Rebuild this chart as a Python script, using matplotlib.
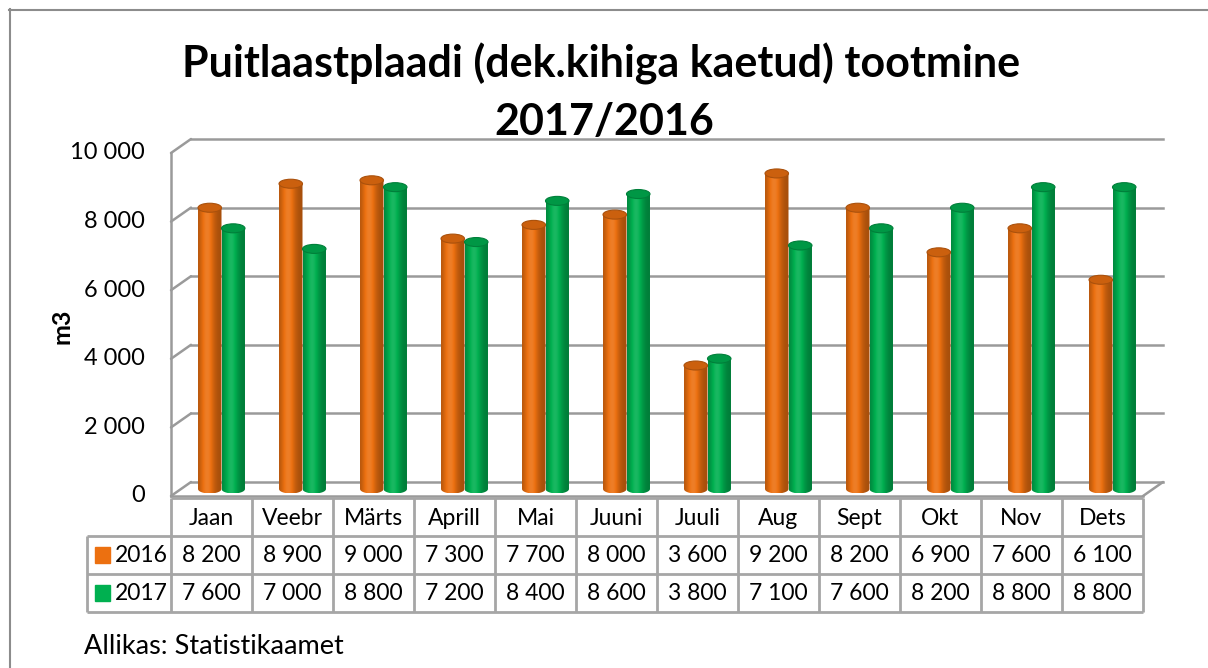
import numpy as np
import matplotlib
matplotlib.use('Agg')
import matplotlib.pyplot as plt
from matplotlib.transforms import offset_copy
from matplotlib.patches import Ellipse, PathPatch, Rectangle, ConnectionPatch
from matplotlib.path import Path
from matplotlib.lines import Line2D
from matplotlib.colors import to_rgb

plt.rcParams['font.family'] = ['Lato', 'DejaVu Sans']

months = ['Jaan', 'Veebr', 'Märts', 'Aprill', 'Mai', 'Juuni', 'Juuli',
          'Aug', 'Sept', 'Okt', 'Nov', 'Dets']
y2016 = [8200, 8900, 9000, 7300, 7700, 8000, 3600, 9200, 8200, 6900, 7600, 6100]
y2017 = [7600, 7000, 8800, 7200, 8400, 8600, 3800, 7100, 7600, 8200, 8800, 8800]
series = ['2016', '2017']
colors = ['#EC7010', '#00B050']
yticks = [0, 2000, 4000, 6000, 8000, 10000]

W, H = 1208, 668
fig = plt.figure(figsize=(W / 100, H / 100), dpi=100)


def fx(px):
    return px / W


def fy(py):
    return 1 - py / H


def fmt(v):
    return f'{v:,}'.replace(',', ' ')


def shade(c, f):
    base = np.array(to_rgb(c))
    if f <= 1:
        return base * f
    return base + (1 - base) * (f - 1)


grid_c = '#9A9A9A'

# border around the whole chart
fig.add_artist(Line2D([fx(9), 1.01], [fy(9.5), fy(9.5)], color='#8C8C8C', lw=1.5))
fig.add_artist(Line2D([fx(9.5), fx(9.5)], [fy(9), -0.01], color='#8C8C8C', lw=1.5))

# main (front plane) axes
ax = fig.add_axes([fx(171), fy(496), fx(1143) - fx(171), fy(153) - fy(496)])
front = ax.transData
mid = offset_copy(front, fig=fig, x=10, y=7, units='dots')
back = offset_copy(front, fig=fig, x=20, y=14, units='dots')
ylab = offset_copy(front, fig=fig, x=-26, y=0, units='dots')

for v in yticks:
    ax.plot([0, 12], [v, v], color=grid_c, lw=1.8, transform=back,
            clip_on=False, zorder=1)
    cp = ConnectionPatch((0, v), (0, v), front, back, color=grid_c, lw=1.8,
                         zorder=1, clip_on=False)
    ax.add_artist(cp)
    ax.text(0, v, fmt(v), transform=ylab, ha='right', va='center', fontsize=17)

# floor and left edge
ax.plot([0, 12], [0, 0], color=grid_c, lw=1.8, clip_on=False, zorder=2)
ax.plot([0, 0], [0, 10000], color=grid_c, lw=1.8, clip_on=False, zorder=2)
cp = ConnectionPatch((12, 0), (12, 0), front, back, color=grid_c, lw=1.8,
                     zorder=2, clip_on=False)
ax.add_artist(cp)

# cylinders
ry = 4.5 * 10000 / 343
bw = 0.29
t = np.linspace(0, 1, 80)
prof = 0.7 + 0.4 * np.exp(-((t - 0.38) / 0.3) ** 2)
for k, vals in enumerate([y2016, y2017]):
    c = colors[k]
    grad = np.array([[shade(c, f) for f in prof]])
    for i, v in enumerate(vals):
        x0 = i + 0.5 - bw + k * bw
        x1 = x0 + bw
        xc = (x0 + x1) / 2
        th = np.linspace(np.pi, 2 * np.pi, 30)
        verts = [(xc + bw / 2 * np.cos(a), ry * np.sin(a)) for a in th]
        verts += [(x1, v), (x0, v), (x0, 0)]
        clip = PathPatch(Path(verts), transform=mid)
        im = ax.imshow(grad, extent=[x0, x1, -ry, v], aspect='auto',
                       interpolation='bilinear', transform=mid, zorder=3)
        im.set_clip_path(clip)
        cap = Ellipse((xc, v), bw, 2 * ry, transform=mid,
                      facecolor=shade(c, 0.86), edgecolor=shade(c, 0.72),
                      lw=0.8, zorder=4)
        ax.add_patch(cap)

ax.set_xlim(0, 12)
ax.set_ylim(0, 10000)
ax.axis('off')

# data table
xl = -(171 - 87) / 81
tax = fig.add_axes([fx(87), fy(612), fx(1143) - fx(87), fy(498) - fy(612)])
tax.set_xlim(xl, 12)
tax.set_ylim(3, 0)
tax.axis('off')
tc = '#A6A6A6'
tax.hlines([0], 0, 12, color=tc, lw=2, clip_on=False)
tax.hlines([1, 2, 3], xl, 12, color=tc, lw=2, clip_on=False)
tax.vlines(range(13), 0, 3, color=tc, lw=2, clip_on=False)
tax.vlines([xl], 1, 3, color=tc, lw=2, clip_on=False)
for i, m in enumerate(months):
    tax.text(i + 0.5, 0.55, m, ha='center', va='center', fontsize=16.5)
for k, vals in enumerate([y2016, y2017]):
    for i, v in enumerate(vals):
        tax.text(i + 0.5, k + 1.5, fmt(v), ha='center', va='center', fontsize=16.5)
    tax.add_patch(Rectangle((xl + 0.1, k + 1.5 - 0.2), 0.185, 0.4,
                            color=colors[k], clip_on=False))
    tax.text(xl + 0.345, k + 1.5, series[k], ha='left', va='center', fontsize=16.5)

# titles and labels
fig.text(fx(601), fy(64), 'Puitlaastplaadi (dek.kihiga kaetud) tootmine',
         ha='center', va='center', fontsize=31, fontweight='bold')
fig.text(fx(604), fy(122), '2017/2016', ha='center', va='center',
         fontsize=31, fontweight='bold')
fig.text(fx(62), fy(326), 'm3', ha='center', va='center', rotation=90,
         fontsize=18, fontweight='bold')
fig.text(fx(84), fy(646), 'Allikas: Statistikaamet', ha='left', va='center',
         fontsize=19.5)

fig.savefig('out.png', dpi=100)
